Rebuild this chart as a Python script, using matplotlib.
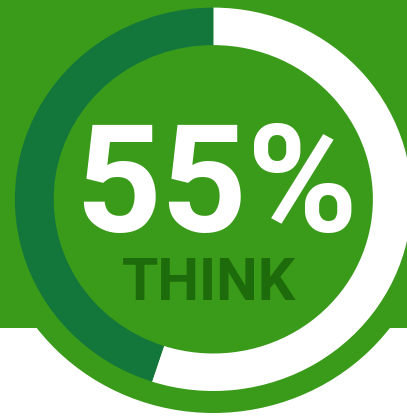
import matplotlib
matplotlib.use("Agg")
import matplotlib.pyplot as plt
from matplotlib.patches import Rectangle, Ellipse

# data
labels = ["Think", "Rest"]
shares = [55, 45]
big_label = "55%"
sub_label = "THINK"

# colours
bg_green = "#3a9b1a"
ring_dark = "#13773b"
text_dark = "#1e6b0c"

W, H = 407, 416
fig = plt.figure(figsize=(W / 100, H / 100), dpi=100)
ax = fig.add_axes([0, 0, 1, 1])
ax.set_facecolor("white")

# slightly wider than tall, like the original
sx = 1.035
cx, cy = 213.3 / sx, H - 199.3

ax.add_patch(Rectangle((0, H - 328), W / sx, 328, color=bg_green, lw=0, zorder=0))
ax.add_patch(Ellipse((cx, cy), 2 * 213.7, 2 * 213.7, color=bg_green, lw=0, zorder=1))

wedges, _ = ax.pie(shares, radius=191.7, center=(cx, cy), startangle=90,
                   counterclock=False, colors=["white", ring_dark],
                   wedgeprops=dict(width=37.5, linewidth=0))
for w in wedges:
    w.set_zorder(2)

ax.set_aspect("auto")
ax.set_xlim(0, W / sx)
ax.set_ylim(0, H)
ax.axis("off")

fig.text(216.5 / W, 1 - 232 / H, big_label, ha="center", va="baseline",
         color="white", fontsize=108, fontweight="bold", family="Roboto")
fig.text(208.5 / W, 1 - 300 / H, sub_label, ha="center", va="baseline",
         color=text_dark, fontsize=42.5, fontweight="bold", family="Roboto")

fig.savefig("out.png", dpi=100)
